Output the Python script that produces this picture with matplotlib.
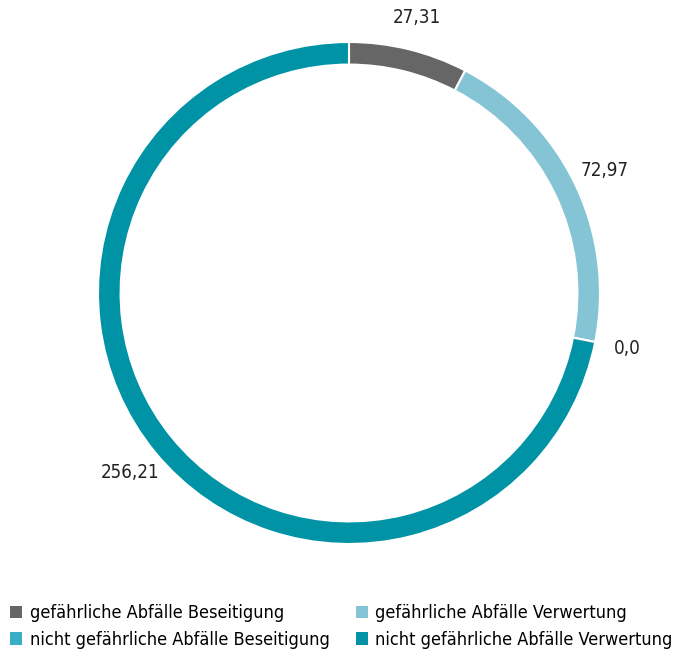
import numpy as np
import matplotlib
matplotlib.use("Agg")
import matplotlib.pyplot as plt
from matplotlib.patches import Patch

plt.rcParams['font.family'] = ['DejaVu Sans']
plt.rcParams['font.stretch'] = 'condensed'

# data, clockwise from the top
categories = ["gefährliche Abfälle Beseitigung", "gefährliche Abfälle Verwertung",
              "nicht gefährliche Abfälle Beseitigung", "nicht gefährliche Abfälle Verwertung"]
values = [27.31, 72.97, 0.0, 256.21]
value_labels = ["27,31", "72,97", "0,0", "256,21"]
colors = ["#666666", "#85c4d5", "#3aafc3", "#0093a6"]

fig = plt.figure(figsize=(6.74, 6.5), dpi=100)
ax = fig.add_axes([(349 - 251) / 674, 1 - (293 + 251) / 650, 502 / 674, 502 / 650])

ax.pie(values, colors=colors, startangle=90, counterclock=False, radius=1.0,
       wedgeprops=dict(width=0.09, edgecolor="white", linewidth=1.5))

# value labels around the ring
total = sum(values)
start = 0.0
for v, lab in zip(values, value_labels):
    mid = start + v / total * 360 / 2
    if v == 0:
        mid = start
    a = np.deg2rad(90 - mid)
    ax.text(1.13 * np.cos(a), 1.13 * np.sin(a), lab, ha="center", va="center",
            fontsize=13.5, color="#222222")
    start += v / total * 360

ax.set_xlim(-1, 1)
ax.set_ylim(-1, 1)
ax.set_aspect("equal")
ax.axis("off")

# legend goes column by column
order = [0, 2, 1, 3]
handles = [Patch(facecolor=colors[i], edgecolor="none") for i in order]
labels = [categories[i] for i in order]
fig.legend(handles, labels, ncol=2, loc="lower left", bbox_to_anchor=(0.009, -0.004),
           frameon=False, fontsize=13, handlelength=0.7, handleheight=0.7,
           handletextpad=0.4, columnspacing=1.45, labelspacing=0.48,
           borderaxespad=0.0, borderpad=0.2)

fig.savefig("out.png", dpi=100)
